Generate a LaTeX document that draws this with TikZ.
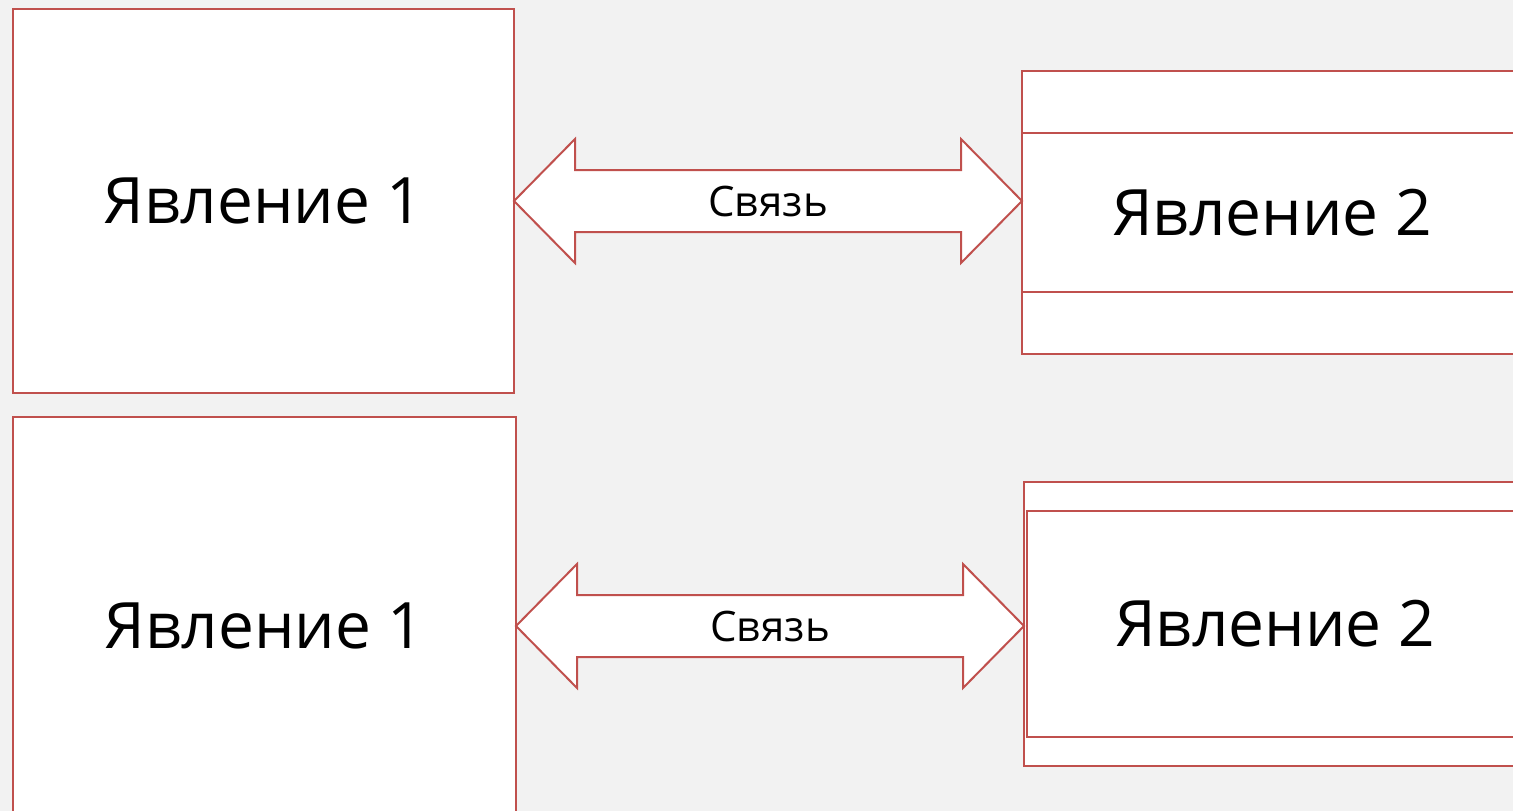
\documentclass[tikz,border=0pt]{standalone}
\usepackage{fontspec}
\setmainfont{Open Sans}
\usetikzlibrary{calc}
\definecolor{bg}{HTML}{F2F2F2}
\definecolor{edge}{HTML}{C0504D}
\begin{document}
\begin{tikzpicture}[x=1pt,y=-1pt,
  box/.style={draw=edge,fill=white,line width=2pt,inner sep=0pt,outer sep=0pt,font=\fontsize{64}{77}\selectfont},
  lbl/.style={font=\fontsize{42}{50}\selectfont,inner sep=0pt},
  arr/.style={draw=edge,fill=white,line width=2pt,line join=miter},
  rule/.style={draw=edge,line width=2pt}]
\fill[bg] (0,0) rectangle (1513,811);
\useasboundingbox (0,0) rectangle (1513,811);
\clip (0,0) rectangle (1513,811);

% top row
\node[box,minimum width=501pt,minimum height=384pt] (L1) at (263.5,201) {Явление 1};
\node[box,minimum width=500pt,minimum height=283pt] (R1) at (1272,212.5) {Явление 2};
\draw[rule] ($(R1.north west)+(0,62)$) -- ($(R1.north east)+(0,62)$);
\draw[rule] ($(R1.south west)+(0,-62)$) -- ($(R1.south east)+(0,-62)$);

\coordinate (A1) at (L1.east);
\coordinate (B1) at (R1.west |- L1.east);
\draw[arr] (A1) -- ++(61,-62) -- ++(0,31) -- ($(B1)+(-61,-31)$) -- ++(0,-31) -- (B1)
  -- ++(-61,62) -- ++(0,-31) -- ($(A1)+(61,31)$) -- ++(0,31) -- cycle;
\node[lbl] (c1) at ($(A1)!0.5!(B1)$) {Связь};

% bottom row
\node[box,minimum width=503pt,minimum height=418pt] (L2) at (264.5,626) {Явление 1};
\node[box,minimum width=502pt,minimum height=284pt] (R2) at (1275,624) {};
\draw[rule] ($(R2.north west)+(3,29)$) rectangle ($(R2.south east)+(5,-29)$);
\node[font=\fontsize{64}{77}\selectfont,inner sep=0pt] (t2) at (R2.center) {Явление 2};

\coordinate (A2) at (L2.east);
\coordinate (B2) at (R2.west |- L2.east);
\draw[arr] (A2) -- ++(61,-62) -- ++(0,31) -- ($(B2)+(-61,-31)$) -- ++(0,-31) -- (B2)
  -- ++(-61,62) -- ++(0,-31) -- ($(A2)+(61,31)$) -- ++(0,31) -- cycle;
\node[lbl] (c2) at ($(A2)!0.5!(B2)$) {Связь};
\end{tikzpicture}
\end{document}
